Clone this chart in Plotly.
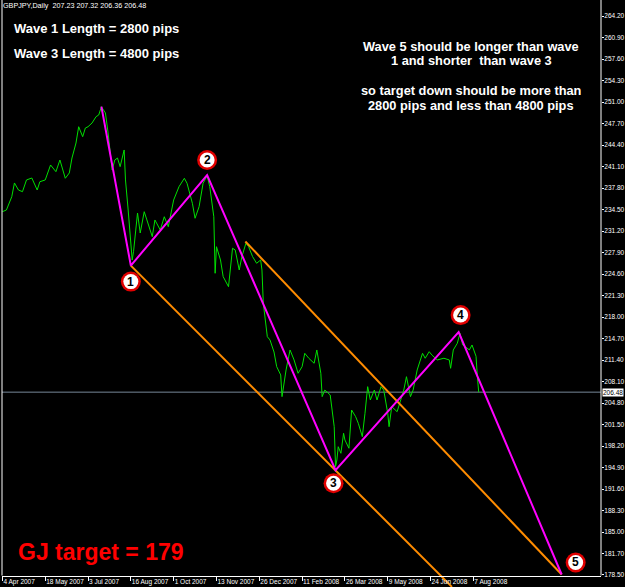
import plotly.graph_objects as go

# ---------------- data ----------------
header_text = "GBPJPY,Daily\u00a0 207.23 207.32 206.36 206.48"

close_bar = [0, 3, 7, 9, 12, 15, 18, 22, 26, 28, 32, 36, 40, 43, 47, 50, 52, 55, 57, 60,
             62, 64, 67, 70, 72, 74, 77, 79, 82, 84, 86, 88, 91, 92, 94, 97, 98, 101, 103, 106,
             108, 112, 114, 118, 121, 124, 128, 132, 136, 138, 142, 144, 147, 150, 153, 155, 158, 159, 160, 163,
             165, 169, 172, 174, 177, 179, 182, 184, 187, 190, 193, 194, 195, 198, 200, 203, 205, 208, 209, 212,
             215, 218, 221, 224, 226, 229, 233, 235, 238, 239, 241, 244, 245, 248, 249, 250, 251, 253, 255, 256,
             259, 261, 264, 266, 269, 271, 273, 275, 278, 280, 283, 285, 288, 289, 291, 295, 297, 300, 302, 305,
             307, 310, 314, 316, 319, 321, 325, 330, 334, 335, 337, 340, 342, 344, 346, 349, 351, 354, 355, 356]
close_price = [234.17, 234.43, 236.47, 238.58, 237.50, 237.24, 239.04, 239.34, 237.50, 238.77,
               239.04, 241.34, 240.31, 242.10, 239.30, 240.11, 242.41, 244.71, 247.21, 245.68,
               247.01, 247.21, 247.78, 248.75, 249.01, 250.28, 249.32, 246.25, 240.57, 242.10,
               242.41, 241.08, 243.64, 239.04, 234.43, 226.76, 228.03, 233.97, 230.90, 234.17,
               232.90, 230.34, 232.90, 231.36, 233.40, 231.87, 235.97, 238.01, 239.30, 238.53,
               235.46, 233.16, 234.94, 238.53, 239.65, 238.01, 233.40, 224.72, 228.80, 226.76,
               224.20, 222.66, 228.56, 228.30, 225.23, 227.27, 229.32, 228.80, 227.27, 226.25,
               226.76, 225.23, 220.12, 214.99, 214.49, 212.64, 210.39, 209.12, 205.79, 209.88,
               212.95, 211.42, 209.38, 210.39, 212.44, 211.68, 210.91, 212.95, 209.38, 205.79,
               206.81, 206.31, 206.05, 201.18, 195.05, 196.07, 198.11, 197.10, 200.17, 199.14,
               197.87, 203.74, 202.72, 201.70, 199.65, 203.24, 207.32, 205.28, 206.81, 205.28,
               207.32, 206.81, 203.24, 201.18, 204.25, 203.48, 204.77, 206.81, 208.85, 205.79,
               206.81, 209.88, 212.44, 211.68, 212.69, 212.18, 211.42, 211.68, 211.42, 210.14,
               212.95, 213.98, 215.51, 213.72, 213.46, 212.95, 213.72, 211.98, 208.85, 206.48]

wave_bar = [74, 96, 153, 249, 341, 418]
wave_price = [250.3, 225.9, 239.8, 194.5, 215.7, 178.5]
wave_names = ["", "1", "2", "3", "4", "5"]

lower_channel_bar = [96, 336]
lower_channel_price = [225.9, 176.6]
upper_channel_bar = [181.6, 418]
upper_channel_price = [229.6, 178.5]

bid_price = 206.48

x_tick_bars = [0, 32, 64, 96, 128, 160, 192, 224, 256, 288, 320, 352]
x_tick_labels = ["4 Apr 2007", "18 May 2007", "3 Jul 2007", "16 Aug 2007", "1 Oct 2007",
                 "13 Nov 2007", "26 Dec 2007", "11 Feb 2008", "26 Mar 2008", "9 May 2008",
                 "24 Jun 2008", "7 Aug 2008"]
y_tick_values = [264.20, 260.90, 257.60, 254.30, 251.00, 247.70, 244.40, 241.10, 237.80,
                 234.50, 231.20, 227.90, 224.60, 221.30, 218.00, 214.70, 211.40, 208.10,
                 204.80, 201.50, 198.20, 194.90, 191.60, 188.30, 185.00, 181.70, 178.50]

left_notes = ["Wave 1 Length = 2800 pips", "Wave 3 Length = 4800 pips"]
right_notes = ["Wave 5 should be longer than wave", "1 and shorter\u00a0 than wave 3",
               "so target down should be more than", "2800 pips and less than 4800 pips"]
target_note = "GJ target = 179"

# ---------------- styling / layout ----------------
W, H = 625, 587
ML, MR = 2, 24
PW = W - ML - MR
AXIS_Y_PX = 575.5
axis_pos = (H - AXIS_Y_PX) / H

def px_x(px):
    return (px - ML) / PW

def px_y(py):
    return 1 - py / H

SMALL = "Liberation Sans, Arial, sans-serif"
TICK_FONT = dict(family=SMALL, size=6.5, color="white")
TEXT_FONT = "Liberation Sans, Arial, sans-serif"

fig = go.Figure()
fig.add_trace(go.Scatter(x=close_bar, y=close_price, mode="lines",
                         line=dict(color="#00e000", width=1), hoverinfo="skip"))
fig.add_trace(go.Scatter(x=lower_channel_bar, y=lower_channel_price, mode="lines",
                         line=dict(color="#ff8c00", width=2), hoverinfo="skip"))
fig.add_trace(go.Scatter(x=upper_channel_bar, y=upper_channel_price, mode="lines",
                         line=dict(color="#ff8c00", width=2), hoverinfo="skip"))
fig.add_trace(go.Scatter(x=wave_bar, y=wave_price, mode="lines",
                         line=dict(color="#ff00ff", width=2), hoverinfo="skip"))

shapes = []
# bid line
shapes.append(dict(type="line", xref="paper", x0=0, x1=1, yref="y", y0=bid_price, y1=bid_price,
                   line=dict(color="#778899", width=1), layer="below"))
# frame lines
shapes.append(dict(type="line", xref="paper", yref="paper", x0=0, x1=0, y0=axis_pos, y1=1,
                   line=dict(color="white", width=1)))
shapes.append(dict(type="line", xref="paper", yref="paper", x0=1, x1=1, y0=axis_pos, y1=1,
                   line=dict(color="white", width=1)))

annotations = []
# wave number balls (pixel offsets from wave points)
label_offsets = {"1": (0, -16), "2": (0, 15), "3": (-2, -13), "4": (2, 17), "5": (14, 12)}
for b, p, name in zip(wave_bar, wave_price, wave_names):
    if not name:
        continue
    dx, dy = label_offsets[name]
    for r, col in ((10, "#e00000"), (7.5, "white")):
        shapes.append(dict(type="circle", xref="x", yref="y", xsizemode="pixel", ysizemode="pixel",
                           xanchor=b, yanchor=p, x0=dx - r, x1=dx + r, y0=dy - r, y1=dy + r,
                           fillcolor=col, line=dict(width=0), layer="above"))
    annotations.append(dict(x=b, y=p, xref="x", yref="y", xshift=dx, yshift=dy, text="<b>" + name + "</b>",
                            showarrow=False, font=dict(family=TEXT_FONT, size=12, color="black")))

# header
annotations.append(dict(xref="paper", yref="paper", x=px_x(1), y=px_y(5), xanchor="left", yanchor="middle",
                        text=header_text, showarrow=False,
                        font=dict(family=SMALL, size=7.2, color="white")))
# left notes
for txt, py in zip(left_notes, [28, 54]):
    annotations.append(dict(xref="paper", yref="paper", x=px_x(12), y=px_y(py), xanchor="left",
                            yanchor="middle", text="<b>" + txt + "</b>", showarrow=False,
                            font=dict(family=TEXT_FONT, size=13, color="white")))
# right notes
for txt, py in zip(right_notes, [46, 61, 90.5, 105]):
    annotations.append(dict(xref="paper", yref="paper", x=px_x(471), y=px_y(py), xanchor="center",
                            yanchor="middle", text="<b>" + txt + "</b>", showarrow=False,
                            font=dict(family=TEXT_FONT, size=12.8, color="white")))
# target
annotations.append(dict(xref="paper", yref="paper", x=px_x(16), y=px_y(552), xanchor="left", yanchor="middle",
                        text="<b>" + target_note + "</b>", showarrow=False,
                        font=dict(family=TEXT_FONT, size=23, color="#ff0000")))
# bid price box
annotations.append(dict(xref="paper", yref="y", x=1, y=bid_price, xanchor="left", yanchor="middle", xshift=1,
                        text=f"{bid_price:.2f}", showarrow=False, bgcolor="white", borderpad=0,
                        font=dict(family=SMALL, size=6.5, color="black")))

fig.update_layout(
    width=W, height=H,
    margin=dict(l=ML, r=MR, t=0, b=0, autoexpand=False),
    paper_bgcolor="black", plot_bgcolor="black",
    showlegend=False,
    xaxis=dict(range=[-0.3, 447.4], anchor="free", position=axis_pos, showgrid=False, zeroline=False,
               automargin=False, showline=True, linecolor="white", linewidth=1,
               tickmode="array", tickvals=x_tick_bars, ticktext=x_tick_labels, tickangle=0,
               ticks="outside", ticklen=4, tickcolor="white", ticklabelposition="outside right",
               tickfont=TICK_FONT),
    yaxis=dict(range=[176.58, 266.655], side="right", showgrid=False, zeroline=False, showline=False,
               automargin=False, ticklabelstandoff=-1,
               tickmode="array", tickvals=y_tick_values, ticktext=[f"{v:.2f}" for v in y_tick_values],
               ticks="outside", ticklen=2, tickcolor="white", tickfont=TICK_FONT),
    shapes=shapes,
    annotations=annotations,
)

fig.write_html("out.html")
